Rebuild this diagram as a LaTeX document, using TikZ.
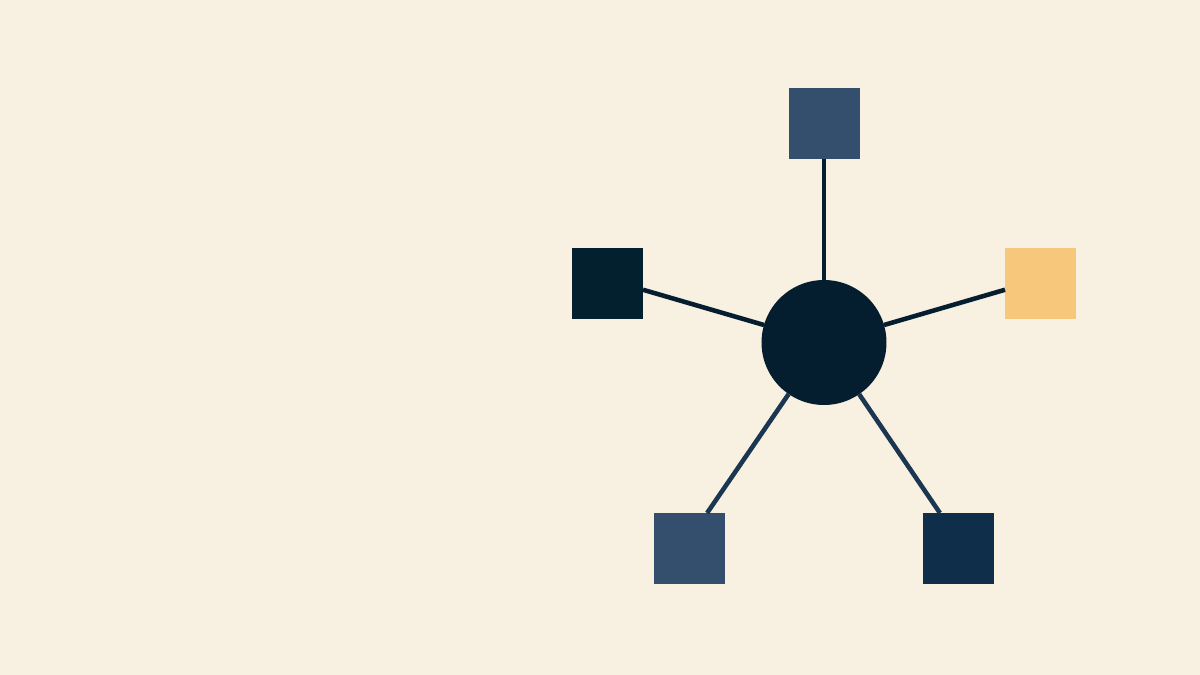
\documentclass[tikz,border=0pt]{standalone}
\definecolor{bg}{HTML}{F8F0E0}
\definecolor{hub}{HTML}{041E2F}
\definecolor{slate}{HTML}{344F6E}
\definecolor{navy}{HTML}{03202F}
\definecolor{deep}{HTML}{0F2E4A}
\definecolor{amber}{HTML}{F7C77C}
\definecolor{wire}{HTML}{1B3650}
\begin{document}
\begin{tikzpicture}[x=0.02cm,y=-0.02cm,
  sq/.style={rectangle,minimum size=1.42cm,inner sep=0pt,outer sep=0pt},
  hubnode/.style={circle,minimum size=2.5cm,inner sep=0pt,outer sep=0pt,fill=hub},
  wireline/.style={draw=wire,line width=2.6pt}]
\fill[bg] (0,0) rectangle (1200,675);
\useasboundingbox (0,0) rectangle (1200,675);
\node[hubnode] (c) at (824,342.5) {};
\node[sq,fill=slate] (top) at (824,123.5) {};
\node[sq,fill=navy] (lsq) at (607.5,283.5) {};
\node[sq,fill=amber] (rsq) at (1040.5,283.5) {};
\node[sq,fill=slate] (bl) at (689,548.5) {};
\node[sq,fill=deep] (br) at (958,548.5) {};
\draw[wireline,draw=hub] (c) -- (top);
\draw[wireline,draw=hub] (c) -- (lsq.-10);
\draw[wireline,draw=hub] (c) -- (rsq.190);
\draw[wireline] (c) -- (bl.63);
\draw[wireline] (c) -- (br.117);
\end{tikzpicture}
\end{document}
